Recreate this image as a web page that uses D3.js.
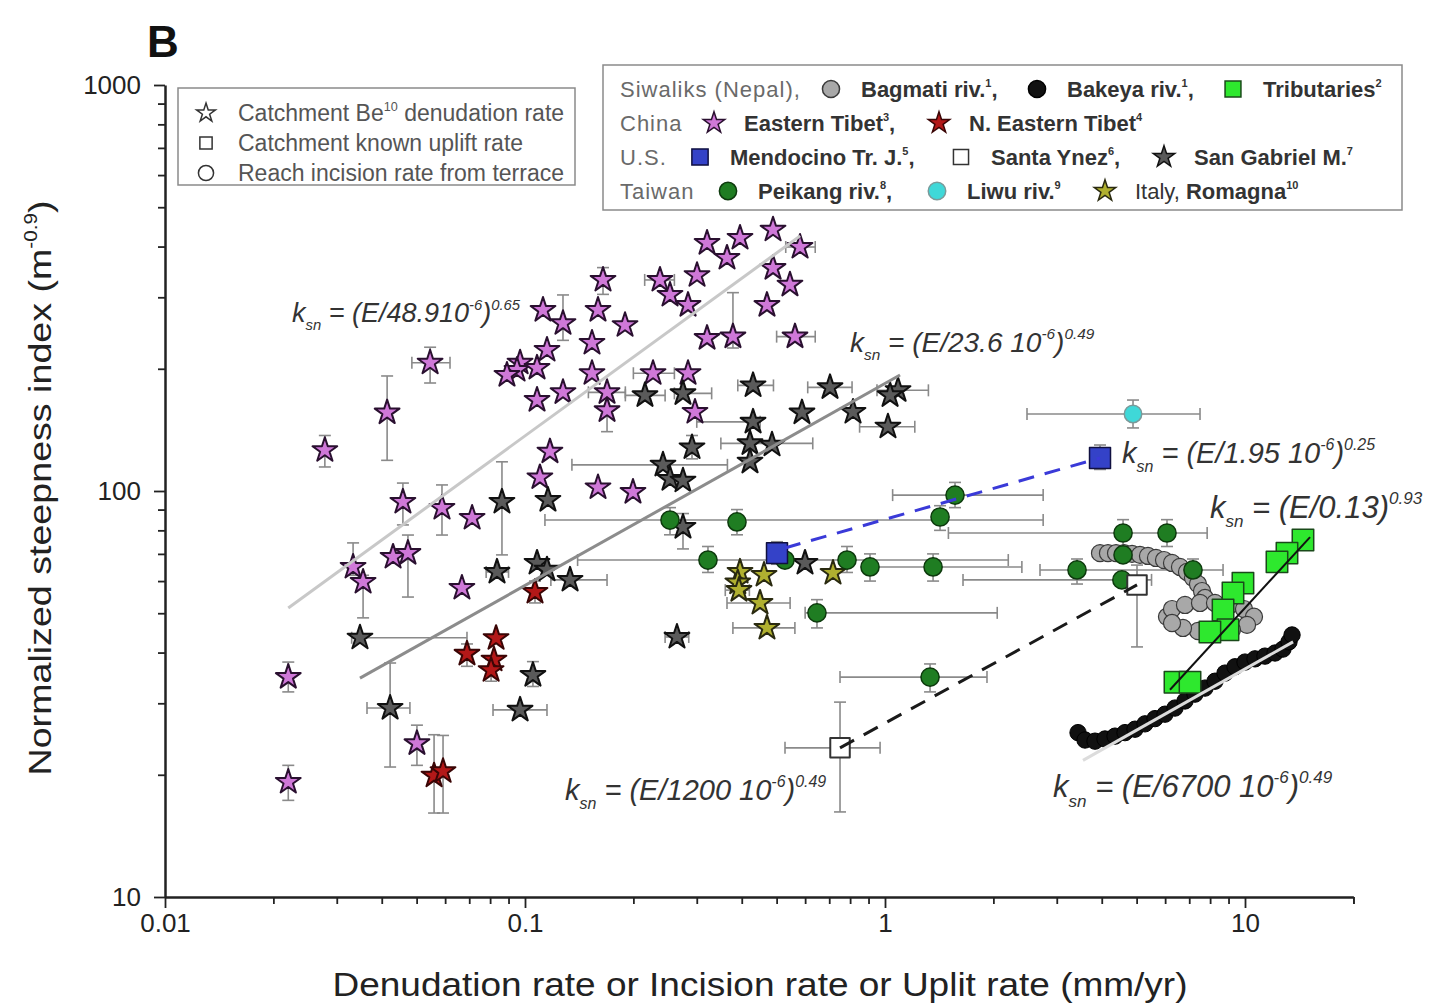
<!DOCTYPE html>
<html lang="en">
<head>
<meta charset="UTF-8">
<title>Steepness index vs denudation rate</title>
<style>
  body { margin: 0; background: #fff; }
  text { font-family: 'Liberation Sans', Arial, Helvetica, sans-serif; }
</style>
</head>
<body>
<svg id="svg" width="1440" height="1007"></svg>
<script src="https://d3js.org/d3.v7.min.js"></script>
<script>
// ---- data (E in mm/yr, k = ksn), ex / ek = error bar ends ----
const easternTibet = [
  {E:0.0220,k:34.8,ek:[32.0,37.9]}, {E:0.0220,k:19.2,ek:[17.3,21.1]}, {E:0.0278,k:126,ek:[114.6,137]},
  {E:0.0333,k:65,ek:[62,74.5]}, {E:0.0355,k:59.7,ek:[48.7,62]}, {E:0.0414,k:156,ek:[119,192]},
  {E:0.0430,k:68.8}, {E:0.0473,k:70.3,ek:[54.8,77.9]}, {E:0.0458,k:94,ek:[82.5,104.6]},
  {E:0.0545,k:207,ex:[0.0485,0.0619],ek:[184.5,226]}, {E:0.0588,k:90.8,ek:[77.9,103.5]},
  {E:0.0501,k:23.9,ek:[21.1,26.5]}, {E:0.0668,k:57.7}, {E:0.0713,k:85.8},
  {E:0.0969,k:207}, {E:0.0950,k:198.6}, {E:0.108,k:201}, {E:0.0891,k:193}, {E:0.108,k:167.5},
  {E:0.1122,k:279}, {E:0.1151,k:222.5}, {E:0.1275,k:259,ek:[235,304]}, {E:0.1275,k:175},
  {E:0.1535,k:231.5}, {E:0.1535,k:195}, {E:0.1595,k:279}, {E:0.1647,k:331,ek:[305,355]},
  {E:0.169,k:175,ex:[0.15,0.19]}, {E:0.169,k:158,ek:[140,176]}, {E:0.1896,k:256},
  {E:0.2371,k:331,ex:[0.215,0.26]}, {E:0.2528,k:304}, {E:0.2837,k:287}, {E:0.3005,k:340},
  {E:0.3204,k:408}, {E:0.364,k:375}, {E:0.3956,k:420}, {E:0.4886,k:440}, {E:0.5807,k:399,ex:[0.53,0.64]},
  {E:0.4886,k:354}, {E:0.5445,k:322}, {E:0.470,k:287}, {E:0.3204,k:238}, {E:0.3781,k:240,ek:[225,308]},
  {E:0.5623,k:240,ex:[0.50,0.64]}, {E:0.2268,k:195,ex:[0.2,0.26]}, {E:0.2837,k:195}, {E:0.2966,k:156.5},
  {E:0.1173,k:125}, {E:0.110,k:108}, {E:0.1595,k:102}, {E:0.1995,k:99.4}
];
const sanGabriel = [
  {E:0.430,k:182,ex:[0.39,0.49]}, {E:0.7035,k:180,ex:[0.61,0.81]}, {E:1.087,k:177,ex:[0.95,1.32]},
  {E:1.033,k:172}, {E:0.588,k:156}, {E:0.815,k:156.5}, {E:1.019,k:144,ex:[0.85,1.21]},
  {E:0.430,k:148,ex:[0.30,0.45]}, {E:0.4217,k:131,ex:[0.35,0.63]}, {E:0.4854,k:130}, {E:0.4217,k:118},
  {E:0.291,k:128,ek:[120,137]}, {E:0.2417,k:116,ex:[0.135,0.365]}, {E:0.2528,k:107}, {E:0.2747,k:106},
  {E:0.2154,k:172,ex:[0.19,0.245]}, {E:0.2747,k:174,ex:[0.26,0.33]}, {E:0.0863,k:94,ek:[69.6,118]},
  {E:0.1158,k:95}, {E:0.2747,k:81.5,ek:[72,88]}, {E:0.0836,k:63.2,ex:[0.078,0.09]}, {E:0.108,k:66.5},
  {E:0.1151,k:64}, {E:0.1334,k:60.4,ex:[0.118,0.169]}, {E:0.0348,k:43.5,ex:[0.033,0.069]},
  {E:0.0422,k:29.2,ex:[0.0364,0.0479],ek:[20.9,37.7]}, {E:0.1052,k:35.2,ek:[33,38]},
  {E:0.0969,k:28.9,ex:[0.0815,0.1151]}, {E:0.2643,k:43.7,ex:[0.245,0.285]}, {E:0.5995,k:66.5}
];
const nEasternTibet = [
  {E:0.1066,k:56.4,ek:[53,60]}, {E:0.0831,k:43.4}, {E:0.069,k:39.7,ek:[37,42]}, {E:0.082,k:38.4},
  {E:0.0805,k:36.2,ek:[34,38.5]}, {E:0.0559,k:19.9,ek:[16.1,25.1]}, {E:0.0592,k:20.4,ek:[16.1,25]}
];
const romagna = [
  {E:0.3956,k:63.2}, {E:0.39,k:59.5}, {E:0.393,k:57.0,ex:[0.36,0.42]}, {E:0.4613,k:62.1},
  {E:0.4496,k:53.0,ex:[0.364,0.545]}, {E:0.470,k:46.0,ex:[0.378,0.562]}, {E:0.717,k:62.8}
];
const peikang = [
  {E:0.2528,k:84.8,ex:[0.1136,2.75],ek:[78,91]}, {E:0.388,k:83.9,ek:[78,90]}, {E:1.422,k:86.3,ek:[80,92]},
  {E:1.565,k:97.7,ex:[1.05,2.75],ek:[91,105]}, {E:0.3223,k:67.6,ex:[0.14,2.2],ek:[63,73]},
  {E:0.5275,k:67.6}, {E:0.7843,k:67.6,ek:[63,73]}, {E:0.9085,k:65.0,ek:[60,70]},
  {E:1.36,k:65.0,ex:[0.9,2.4],ek:[60,70]}, {E:0.6472,k:50.1,ex:[0.6,2.05],ek:[46,54]},
  {E:1.334,k:34.8,ex:[0.75,1.92],ek:[32,37.5]}, {E:4.584,k:78.8,ex:[1.5,7.85],ek:[73,85]},
  {E:6.072,k:78.8,ek:[73,85]}, {E:4.584,k:69.6}, {E:3.415,k:63.9,ex:[2.695,8.69],ek:[59,68]},
  {E:7.17,k:63.9,ek:[59,68]}, {E:4.55,k:60.4,ex:[1.647,5.5]}
];
const liwu = [{E:4.886,k:154.8,ex:[2.48,7.50],ek:[143,167.5]}];
const mendocino = [{E:3.956,k:120.6,ek:[113,129.8]}, {E:0.5012,k:70.3,ek:[66,75]}];
const santaYnez = [{E:5.012,k:58.7,ek:[41.3,65.7]}, {E:0.75,k:23.3,ex:[0.5275,0.969],ek:[16.2,30.2]}];
const tributaries = [
  [14.49,75.7],[13.08,70.3],[12.27,66.9],[9.87,59.3],[9.26,56.1],[8.69,50.9],[8.97,45.5],[7.99,44.96],[6.39,33.8],[7.035,33.8]
].map(([E,k]) => ({E,k}));
const bagmati = [
  [3.956,70.3],[4.163,70.3],[4.383,70.3],[4.613,70.3],[4.855,70.0],[5.109,69.6],[5.377,69.2],[5.659,68.4],
  [5.957,67.6],[6.27,66.5],[6.598,65.0],[6.90,63.2],[7.17,61.1],[7.403,59.0],[7.596,56.7],[7.743,54.5],
  [6.072,49.0],[6.27,51.2],[6.813,52.4],[7.499,53.0],[8.254,53.0],[9.085,52.4],[9.936,51.2],[10.59,49.0],
  [10.13,46.8],[9.20,45.5],[8.254,44.96],[7.403,45.2],[6.726,46.0],[6.27,47.3]
].map(([E,k]) => ({E,k}));
const bakeya = [
  [3.437,25.4],[3.594,24.36],[3.831,24.2],[4.084,24.5],[4.354,24.9],[4.642,25.4],[4.948,25.9],[5.275,26.7],
  [5.623,27.5],[5.995,28.2],[6.39,29.2],[6.813,30.4],[7.262,31.6],[7.743,32.7],[8.254,34.0],[8.799,35.6],
  [9.38,36.9],[10.0,37.9],[10.66,38.6],[11.36,39.2],[12.12,39.9],[12.75,40.8],[13.25,42.5],[13.51,44.2]
].map(([E,k]) => ({E,k}));

// fit lines: [start, end] in data units
const fitTibet = [[0.0220, 51.5], [0.581, 425]];
const fitGabriel = [[0.0348, 34.6], [1.101, 193]];
const fitMendocino = [[0.5275, 72.4], [3.956, 120.6]];
const fitYnez = [[0.75, 23.3], [5.012, 58.7]];
const fitTributaries = [[6.19, 32.4], [15.16, 77.0]];
const fitBakeya = [[3.548, 21.7], [13.6, 42.5]];

const fitLabels = [
  {E:0.02253, k:261, parts:[['k'],['sn','sub'],[' = (E/48.910'],['-6','sup'],[')'],['0.65','sup']]},
  {E:0.7995, k:220, parts:[['k'],['sn','sub'],[' = (E/23.6 10'],['-6','sup'],[')'],['0.49','sup']]},
  {E:4.554, k:117.3, parts:[['k'],['sn','sub'],[' = (E/1.95 10'],['-6','sup'],[')'],['0.25','sup']]},
  {E:7.99, k:85.8, parts:[['k'],['sn','sub'],[' = (E/0.13)'],['0.93','sup']]},
  {E:0.1292, k:17.3, parts:[['k'],['sn','sub'],[' = (E/1200 10'],['-6','sup'],[')'],['0.49','sup']]},
  {E:2.929, k:17.6, parts:[['k'],['sn','sub'],[' = (E/6700 10'],['-6','sup'],[')'],['0.49','sup']]}
];
const fitLabelSizes = [27, 28, 29, 31, 29, 31];

const xMajor = [0.01, 0.1, 1, 10];
const yMajor = [10, 100, 1000];

// ---- setup ----
const svg = d3.select('#svg');
const x = d3.scaleLog().domain([0.01, 20]).range([165, 165 + Math.log10(2000) * 360]);
const y = d3.scaleLog().domain([10, 1000]).range([897, 85]);

function rich(t, parts, base) {
  let shift = 0;
  parts.forEach(([s, kind]) => {
    const ts = t.append('tspan').text(s);
    let target = 0;
    if (kind === 'sup') { target = -base * 0.45; ts.attr('font-size', base * 0.55); }
    else if (kind === 'sub') { target = base * 0.3; ts.attr('font-size', base * 0.55); }
    if (kind === 'b') ts.attr('font-weight', 'bold');
    if (kind === 'bsup') { target = -base * 0.45; ts.attr('font-size', base * 0.5).attr('font-weight', 'bold'); }
    ts.attr('dy', target - shift);
    shift = target;
  });
}

const styles = {
  tibet: {shape: d3.symbolStar, size: 190, fill: '#cf78d8', stroke: '#2a1030', sw: 2},
  gabriel: {shape: d3.symbolStar, size: 190, fill: '#5a5a5a', stroke: '#111', sw: 2},
  netibet: {shape: d3.symbolStar, size: 190, fill: '#b31818', stroke: '#3a0505', sw: 2},
  romagna: {shape: d3.symbolStar, size: 190, fill: '#b0b030', stroke: '#2a2a10', sw: 2},
  peikang: {shape: d3.symbolCircle, size: 260, fill: '#1f7d22', stroke: '#0d3a0d', sw: 1.5},
  liwu: {shape: d3.symbolCircle, size: 240, fill: '#3fd8d8', stroke: '#7a9a9a', sw: 1.5},
  mendocino: {shape: d3.symbolSquare, size: 440, fill: '#3442c8', stroke: '#101040', sw: 1.5},
  ynez: {shape: d3.symbolSquare, size: 380, fill: '#fff', stroke: '#333', sw: 2},
  trib: {shape: d3.symbolSquare, size: 460, fill: '#2ee82e', stroke: '#1a4a1a', sw: 1.5},
  bagmati: {shape: d3.symbolCircle, size: 230, fill: '#a8a8a8', stroke: '#3a3a3a', sw: 1.2},
  bakeya: {shape: d3.symbolCircle, size: 210, fill: '#111', stroke: '#000', sw: 1}
};

// ---- axes ----
const xTicks = [];
[0.01, 0.1, 1, 10].forEach(d => { for (let i = 1; i < 10; i++) if (d * i <= 20) xTicks.push(d * i); });
xTicks.push(20);
const yTicks = [];
[10, 100].forEach(d => { for (let i = 1; i < 10; i++) yTicks.push(d * i); });
yTicks.push(1000);

const isMajor = v => Math.abs(Math.log10(v) - Math.round(Math.log10(v))) < 1e-6;

const xAxis = svg.append('g').attr('transform', 'translate(0,897)')
  .call(d3.axisBottom(x).tickValues(xTicks).tickSizeOuter(0)
    .tickFormat(d => xMajor.some(m => Math.abs(m - d) < 1e-9) ? d3.format('~g')(d) : ''));
xAxis.select('.domain').attr('stroke', '#222').attr('stroke-width', 2.5);
xAxis.selectAll('.tick line').attr('stroke', '#222').attr('stroke-width', 1.8)
  .attr('y2', d => isMajor(d) ? 11 : 7);
xAxis.selectAll('.tick text').attr('font-size', 26).attr('fill', '#222').attr('y', 17)
  .attr('font-family', "'Liberation Sans', Arial, sans-serif");

const yAxis = svg.append('g').attr('transform', 'translate(165,0)')
  .call(d3.axisLeft(y).tickValues(yTicks).tickSizeOuter(0)
    .tickFormat(d => yMajor.includes(d) ? String(d) : ''));
yAxis.select('.domain').attr('stroke', '#222').attr('stroke-width', 2.5);
yAxis.selectAll('.tick line').attr('stroke', '#222').attr('stroke-width', 1.8)
  .attr('x2', d => isMajor(d) ? -11 : -7);
yAxis.selectAll('.tick text').attr('font-size', 26).attr('fill', '#222').attr('x', -24)
  .attr('font-family', "'Liberation Sans', Arial, sans-serif");

svg.append('text').attr('x', 760).attr('y', 996).attr('text-anchor', 'middle')
  .attr('font-size', 34).attr('fill', '#222')
  .attr('textLength', 855).attr('lengthAdjust', 'spacingAndGlyphs')
  .text('Denudation rate or Incision rate or Uplit rate (mm/yr)');

const yt = svg.append('text').attr('transform', 'translate(51,488) rotate(-90)').attr('text-anchor', 'middle')
  .attr('font-size', 32).attr('fill', '#222')
  .attr('textLength', 575).attr('lengthAdjust', 'spacingAndGlyphs');
rich(yt, [['Normalized steepness index (m'], ['-0.9', 'sup'], [')']], 32);

svg.append('text').attr('x', 147).attr('y', 57).attr('font-size', 44).attr('font-weight', 'bold')
  .attr('fill', '#111').text('B');

// ---- error bars ----
const allSeries = [easternTibet, sanGabriel, nEasternTibet, romagna, peikang, liwu, mendocino, santaYnez];
const eg = svg.append('g').attr('stroke', '#8a8a8a').attr('stroke-width', 1.6).attr('fill', 'none');
allSeries.forEach(series => series.forEach(d => {
  const cx = x(d.E), cy = y(d.k);
  if (d.ex) {
    const x0 = x(d.ex[0]), x1 = x(d.ex[1]);
    eg.append('line').attr('x1', x0).attr('x2', x1).attr('y1', cy).attr('y2', cy);
    [x0, x1].forEach(xx => eg.append('line').attr('x1', xx).attr('x2', xx).attr('y1', cy - 6).attr('y2', cy + 6));
  }
  if (d.ek) {
    const y0 = y(d.ek[0]), y1 = y(d.ek[1]);
    eg.append('line').attr('x1', cx).attr('x2', cx).attr('y1', y0).attr('y2', y1);
    [y0, y1].forEach(yy => eg.append('line').attr('x1', cx - 6).attr('x2', cx + 6).attr('y1', yy).attr('y2', yy));
  }
}));

// ---- points ----
function drawSeries(data, st) {
  svg.append('g').selectAll('path').data(data).join('path')
    .attr('transform', d => `translate(${x(d.E)},${y(d.k)})`)
    .attr('d', d3.symbol(st.shape, st.size))
    .attr('fill', st.fill).attr('stroke', st.stroke).attr('stroke-width', st.sw)
    .attr('stroke-linejoin', 'round');
}
drawSeries(bakeya, styles.bakeya);
drawSeries(bagmati, styles.bagmati);
drawSeries(easternTibet, styles.tibet);
drawSeries(sanGabriel, styles.gabriel);
drawSeries(nEasternTibet, styles.netibet);
drawSeries(romagna, styles.romagna);
drawSeries(peikang, styles.peikang);
drawSeries(liwu, styles.liwu);
drawSeries(mendocino, styles.mendocino);
drawSeries(santaYnez, styles.ynez);
drawSeries(tributaries, styles.trib);

// ---- fit lines ----
const line = d3.line().x(d => x(d[0])).y(d => y(d[1]));
const fits = [
  [fitTibet, '#c8c8c8', 3, null],
  [fitGabriel, '#8c8c8c', 3, null],
  [fitMendocino, '#3a3ad8', 3, '16,11'],
  [fitYnez, '#1a1a1a', 3, '16,11'],
  [fitTributaries, '#111', 2, null],
  [fitBakeya, '#dcdcdc', 3, null]
];
fits.forEach(([pts, color, w, dash]) => {
  svg.append('path').attr('d', line(pts)).attr('fill', 'none')
    .attr('stroke', color).attr('stroke-width', w).attr('stroke-dasharray', dash);
});

// ---- fit labels ----
fitLabels.forEach((l, i) => {
  const fs = fitLabelSizes[i];
  const t = svg.append('text').attr('x', x(l.E)).attr('y', y(l.k))
    .attr('font-size', fs).attr('font-style', 'italic').attr('fill', '#333');
  rich(t, l.parts, fs);
});

// ---- legends ----
function legendMarker(g, st, cx, cy, scale) {
  g.append('path').attr('transform', `translate(${cx},${cy})`)
    .attr('d', d3.symbol(st.shape, st.size * scale))
    .attr('fill', st.fill).attr('stroke', st.stroke).attr('stroke-width', 1.5);
}

const lg1 = svg.append('g');
lg1.append('rect').attr('x', 178).attr('y', 88).attr('width', 397).attr('height', 97)
  .attr('fill', '#fff').attr('stroke', '#8a8a8a').attr('stroke-width', 1.5);
const lg1Items = [
  [{shape: d3.symbolStar, size: 110, fill: '#fff', stroke: '#333'}, [['Catchment Be'], ['10', 'sup'], [' denudation rate']]],
  [{shape: d3.symbolSquare, size: 150, fill: '#fff', stroke: '#333'}, [['Catchment known uplift rate']]],
  [{shape: d3.symbolCircle, size: 180, fill: '#fff', stroke: '#333'}, [['Reach incision rate from terrace']]]
];
lg1Items.forEach(([st, parts], i) => {
  legendMarker(lg1, st, 206, 113 + i * 30, 1);
  const t = lg1.append('text').attr('x', 238).attr('y', 121 + i * 30).attr('font-size', 23).attr('fill', '#555');
  rich(t, parts, 23);
});

const lg2 = svg.append('g');
lg2.append('rect').attr('x', 603).attr('y', 65).attr('width', 799).attr('height', 145)
  .attr('fill', '#fff').attr('stroke', '#8a8a8a').attr('stroke-width', 1.5);
const legendRows = [
  [[620, null, [['Siwaliks (Nepal),']]], [831, 'bagmati', [['Bagmati riv.', 'b'], ['1', 'bsup'], [',', 'b']]],
   [1037, 'bakeya', [['Bakeya riv.', 'b'], ['1', 'bsup'], [',', 'b']]], [1233, 'trib', [['Tributaries', 'b'], ['2', 'bsup']]]],
  [[620, null, [['China']]], [714, 'tibet', [['Eastern Tibet', 'b'], ['3', 'bsup'], [',', 'b']]],
   [939, 'netibet', [['N. Eastern Tibet', 'b'], ['4', 'bsup']]]],
  [[620, null, [['U.S.']]], [700, 'mendocino', [['Mendocino Tr. J.', 'b'], ['5', 'bsup'], [',', 'b']]],
   [961, 'ynez', [['Santa Ynez', 'b'], ['6', 'bsup'], [',', 'b']]], [1164, 'gabriel', [['San Gabriel M.', 'b'], ['7', 'bsup']]]],
  [[620, null, [['Taiwan']]], [728, 'peikang', [['Peikang riv.', 'b'], ['8', 'bsup'], [',', 'b']]],
   [937, 'liwu', [['Liwu riv.', 'b'], ['9', 'bsup']]], [1105, 'romagna', [['Italy, '], ['Romagna', 'b'], ['10', 'bsup']]]]
];
const legendScale = {bagmati: 1.0, bakeya: 1.1, trib: 0.55, tibet: 0.75, netibet: 0.75, mendocino: 0.6,
  ynez: 0.6, gabriel: 0.75, peikang: 0.9, liwu: 1.0, romagna: 0.75};
legendRows.forEach((row, r) => {
  const cy = 89 + r * 34;
  row.forEach(([px, key, parts]) => {
    let tx = px;
    if (key) { legendMarker(lg2, styles[key], px, cy, legendScale[key]); tx = px + 30; }
    const t = lg2.append('text').attr('x', tx).attr('y', cy + 8).attr('font-size', 22)
      .attr('fill', key ? '#333' : '#6a6a6a').attr('letter-spacing', key ? 0 : 1);
    rich(t, parts, 22);
  });
});
</script>
</body>
</html>
